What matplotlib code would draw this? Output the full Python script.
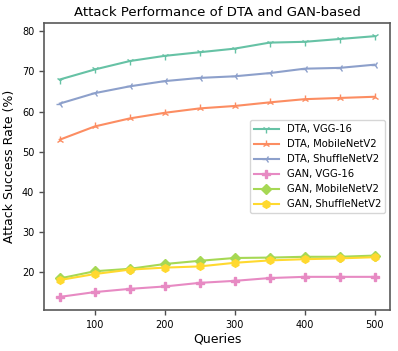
import matplotlib
matplotlib.use('Agg')
import matplotlib.pyplot as plt

queries = [50, 100, 150, 200, 250, 300, 350, 400, 450, 500]

dta_vgg = [68.0, 70.5, 72.6, 73.9, 74.8, 75.7, 77.2, 77.4, 78.1, 78.8]
dta_mobile = [53.0, 56.3, 58.3, 59.7, 60.8, 61.4, 62.3, 63.1, 63.4, 63.7]
dta_shuffle = [62.0, 64.6, 66.3, 67.6, 68.4, 68.8, 69.6, 70.7, 70.9, 71.7]
gan_vgg = [13.8, 15.0, 15.8, 16.4, 17.3, 17.8, 18.5, 18.8, 18.8, 18.8]
gan_mobile = [18.4, 20.2, 20.8, 22.0, 22.8, 23.5, 23.6, 23.8, 23.8, 24.1]
gan_shuffle = [18.0, 19.5, 20.6, 21.1, 21.4, 22.3, 22.9, 23.2, 23.4, 23.7]

series = [
    ('DTA, VGG-16', dta_vgg, '1', '#66c2a5'),
    ('DTA, MobileNetV2', dta_mobile, '2', '#fc8d62'),
    ('DTA, ShuffleNetV2', dta_shuffle, '3', '#8da0cb'),
    ('GAN, VGG-16', gan_vgg, 'P', '#e78ac3'),
    ('GAN, MobileNetV2', gan_mobile, 'D', '#a6d854'),
    ('GAN, ShuffleNetV2', gan_shuffle, 'h', '#ffd92f'),
]

fig = plt.figure(figsize=(3.98, 3.51), dpi=100)
ax = fig.add_axes([0.1106, 0.117, 0.870, 0.817])

for label, vals, marker, color in series:
    ax.plot(queries, vals, marker=marker, color=color, label=label,
            linewidth=1.5, markersize=5.5)

ax.set_xticks([100, 200, 300, 400, 500])
ax.set_yticks([20, 30, 40, 50, 60, 70, 80])
ax.tick_params(labelsize=7, color='0.3', width=1)
for s in ax.spines.values():
    s.set_color('0.35')
    s.set_linewidth(1.2)

ax.set_xlabel('Queries', fontsize=9, labelpad=2)
ax.set_ylabel('Attack Success Rate (%)', fontsize=9, labelpad=4)
ax.set_title('Attack Performance of DTA and GAN-based', fontsize=9.5, pad=5)
ax.legend(loc='center right', bbox_to_anchor=(1.0, 0.50), fontsize=7.2,
          handlelength=2.5, labelspacing=0.5)

fig.savefig('out.png', dpi=100)
